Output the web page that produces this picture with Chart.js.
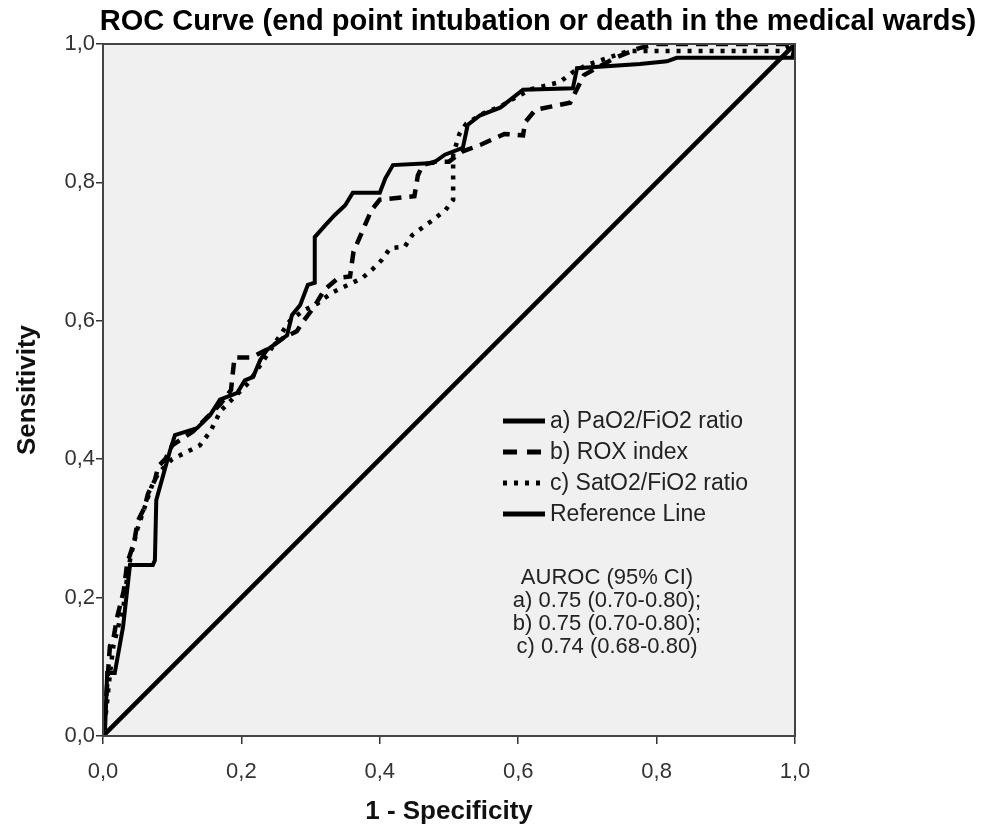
<!DOCTYPE html>
<html>
<head>
<meta charset="utf-8">
<script src="https://cdn.jsdelivr.net/npm/chart.js@4"></script>
<style>
  html, body { margin: 0; padding: 0; background: #fff; }
  #wrap { width: 987px; height: 833px; }
</style>
</head>
<body>
<div id="wrap"><canvas id="roc" width="987" height="833"></canvas></div>
<script>
// --- ROC 데이터 ---
const aX = [0, 0.003, 0.006, 0.017, 0.029, 0.039, 0.072, 0.075, 0.077, 0.087, 0.097, 0.104, 0.136, 0.155, 0.169, 0.194, 0.205, 0.217, 0.227, 0.237, 0.266, 0.273, 0.285, 0.296, 0.306, 0.306, 0.321, 0.335, 0.350, 0.361, 0.400, 0.408, 0.419, 0.477, 0.494, 0.520, 0.527, 0.545, 0.574, 0.607, 0.679, 0.685, 0.776, 0.815, 0.829, 0.996, 1];
const aY = [0, 0.01, 0.091, 0.091, 0.158, 0.247, 0.247, 0.254, 0.341, 0.377, 0.413, 0.435, 0.445, 0.464, 0.486, 0.496, 0.514, 0.519, 0.543, 0.558, 0.579, 0.608, 0.623, 0.652, 0.655, 0.721, 0.738, 0.753, 0.767, 0.785, 0.785, 0.806, 0.825, 0.828, 0.840, 0.850, 0.883, 0.897, 0.908, 0.934, 0.936, 0.965, 0.971, 0.975, 0.980, 0.980, 1];

const bX = [0, 0.005, 0.010, 0.015, 0.020, 0.025, 0.030, 0.035, 0.045, 0.050, 0.060, 0.065, 0.075, 0.080, 0.090, 0.100, 0.115, 0.130, 0.150, 0.170, 0.185, 0.190, 0.213, 0.220, 0.240, 0.260, 0.280, 0.290, 0.305, 0.320, 0.340, 0.357, 0.362, 0.375, 0.388, 0.400, 0.450, 0.455, 0.462, 0.480, 0.500, 0.520, 0.545, 0.580, 0.607, 0.610, 0.625, 0.675, 0.695, 0.740, 0.775, 0.800, 1];
const bY = [0, 0.06, 0.13, 0.14, 0.17, 0.19, 0.21, 0.25, 0.28, 0.31, 0.33, 0.35, 0.37, 0.39, 0.40, 0.42, 0.43, 0.44, 0.46, 0.48, 0.50, 0.547, 0.547, 0.55, 0.56, 0.575, 0.585, 0.60, 0.62, 0.645, 0.662, 0.664, 0.70, 0.73, 0.76, 0.775, 0.78, 0.81, 0.825, 0.83, 0.83, 0.845, 0.854, 0.87, 0.868, 0.887, 0.905, 0.915, 0.955, 0.980, 0.994, 1.0, 1];

const cX = [0, 0.005, 0.010, 0.015, 0.020, 0.030, 0.035, 0.040, 0.050, 0.060, 0.070, 0.080, 0.090, 0.100, 0.120, 0.140, 0.155, 0.170, 0.190, 0.210, 0.230, 0.250, 0.270, 0.290, 0.310, 0.330, 0.350, 0.375, 0.390, 0.403, 0.415, 0.436, 0.447, 0.477, 0.495, 0.506, 0.506, 0.515, 0.525, 0.550, 0.575, 0.600, 0.620, 0.660, 0.680, 0.700, 0.730, 0.760, 0.980, 1];
const cY = [0, 0.04, 0.09, 0.13, 0.15, 0.19, 0.23, 0.26, 0.30, 0.33, 0.36, 0.38, 0.39, 0.40, 0.41, 0.42, 0.44, 0.47, 0.49, 0.51, 0.54, 0.57, 0.60, 0.615, 0.625, 0.64, 0.65, 0.662, 0.675, 0.688, 0.705, 0.707, 0.724, 0.746, 0.76, 0.775, 0.84, 0.87, 0.885, 0.90, 0.91, 0.925, 0.935, 0.945, 0.96, 0.97, 0.98, 0.99, 0.99, 1];

const refX = [0, 1];
const refY = [0, 1];

const seriesNames = ['a) PaO2/FiO2 ratio', 'b) ROX index', 'c) SatO2/FiO2 ratio', 'Reference Line'];
const tickLabels = ['0,0', '0,2', '0,4', '0,6', '0,8', '1,0'];
const aurocLines = ['AUROC (95% CI)', 'a) 0.75 (0.70-0.80);', 'b) 0.75 (0.70-0.80);', 'c) 0.74 (0.68-0.80)'];

const FONT = '"Liberation Sans", Arial, sans-serif';
const toPoints = (xs, ys) => xs.map((x, i) => ({ x: x, y: ys[i] }));

const lineStyles = [
    { dash: [], width: 4 },
    { dash: [12, 8], width: 4.5 },
    { dash: [4, 7], width: 4.5 },
    { dash: [], width: 4.5 }
];

const datasets = [
    toPoints(aX, aY), toPoints(bX, bY), toPoints(cX, cY), toPoints(refX, refY)
].map((pts, i) => ({
    label: seriesNames[i],
    data: pts,
    showLine: true,
    borderColor: '#000',
    borderWidth: lineStyles[i].width,
    borderDash: lineStyles[i].dash,
    pointRadius: 0,
    tension: 0,
    fill: false
}));

// 배경, 테두리, 제목, 범례
const decorPlugin = {
    id: 'decor',
    beforeDraw(chart) {
        const { ctx, chartArea: a } = chart;
        ctx.save();
        ctx.fillStyle = '#f0f0f0';
        ctx.fillRect(a.left, a.top, a.right - a.left, a.bottom - a.top);
        ctx.restore();
    },
    afterDraw(chart) {
        const { ctx, chartArea: a } = chart;
        ctx.save();
        ctx.strokeStyle = '#444';
        ctx.lineWidth = 2;
        ctx.strokeRect(a.left, a.top, a.right - a.left, a.bottom - a.top);

        // 제목
        ctx.fillStyle = '#000';
        ctx.font = 'bold 29px ' + FONT;
        ctx.textAlign = 'center';
        ctx.textBaseline = 'middle';
        ctx.fillText('ROC Curve (end point intubation or death in the medical wards)', 538, 22);

        // 범례
        ctx.font = '23px ' + FONT;
        ctx.textAlign = 'left';
        const rowY = [421, 452, 483, 514];
        chart.data.datasets.forEach((ds, i) => {
            const y = rowY[i];
            ctx.beginPath();
            ctx.setLineDash(i === 1 ? [14, 10] : (i === 2 ? [4, 7] : []));
            ctx.lineWidth = 5;
            ctx.strokeStyle = '#000';
            ctx.moveTo(503, y);
            ctx.lineTo(545, y);
            ctx.stroke();
            ctx.setLineDash([]);
            ctx.fillStyle = '#222';
            ctx.fillText(ds.label, 550, y + 1);
        });

        // AUROC
        ctx.font = '22px ' + FONT;
        ctx.textAlign = 'center';
        const aucY = [578, 601, 624, 647];
        aurocLines.forEach((t, i) => ctx.fillText(t, 607, aucY[i]));
        ctx.restore();
    }
};

new Chart(document.getElementById('roc'), {
    type: 'scatter',
    data: { datasets: datasets },
    options: {
        responsive: false,
        animation: false,
        layout: { padding: { top: 44, right: 192, left: 0, bottom: 0 } },
        plugins: { legend: { display: false }, tooltip: { enabled: false }, title: { display: false } },
        scales: {
            x: {
                type: 'linear', min: 0, max: 1,
                afterFit: s => { s.height = 97; },
                afterBuildTicks: s => { s.ticks = [0, 0.2, 0.4, 0.6, 0.8, 1].map(v => ({ value: v })); },
                grid: { drawOnChartArea: false, tickLength: 8, color: '#333', lineWidth: 1.5 },
                border: { color: '#444', width: 2 },
                ticks: { color: '#333', font: { family: FONT, size: 22 }, padding: 15,
                         callback: (v) => tickLabels[Math.round(v * 5)] },
                title: { display: true, text: '1 - Specificity', color: '#111',
                         font: { family: FONT, size: 26, weight: 'bold' }, padding: { top: 10, bottom: 6 } }
            },
            y: {
                type: 'linear', min: 0, max: 1,
                afterFit: s => { s.width = 103; },
                afterBuildTicks: s => { s.ticks = [0, 0.2, 0.4, 0.6, 0.8, 1].map(v => ({ value: v })); },
                grid: { drawOnChartArea: false, tickLength: 7, color: '#333', lineWidth: 1.5 },
                border: { color: '#444', width: 2 },
                ticks: { color: '#333', font: { family: FONT, size: 22 }, padding: 1,
                         callback: (v) => tickLabels[Math.round(v * 5)] },
                title: { display: true, text: 'Sensitivity', color: '#111',
                         font: { family: FONT, size: 26, weight: 'bold' }, padding: { top: 12, bottom: 0 } }
            }
        }
    },
    plugins: [decorPlugin]
});
</script>
</body>
</html>
